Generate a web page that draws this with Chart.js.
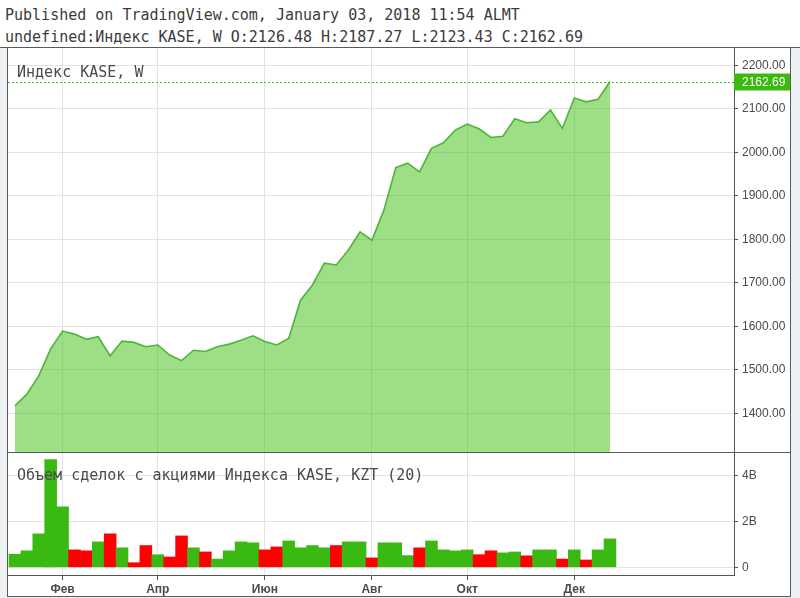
<!DOCTYPE html>
<html><head><meta charset="utf-8">
<script src="https://cdn.jsdelivr.net/npm/chart.js@4.4.0/dist/chart.umd.min.js"></script>
<style>
html,body{margin:0;padding:0;background:#fff;width:800px;height:598px;overflow:hidden;position:relative;font-family:"DejaVu Sans Mono",monospace;}
.hdr{position:absolute;left:5px;font-size:15px;line-height:15px;color:#3b3b3b;white-space:pre;}
#bg{position:absolute;left:0;top:47px;width:800px;height:551px;background:#eef1f4;}
#frame{position:absolute;left:7px;top:47px;width:784px;height:550px;box-sizing:border-box;border:1px solid #5a5a5a;background:#fff;}
#topline{position:absolute;left:0;top:47px;width:800px;height:1px;background:#5a5a5a;}
#sep{position:absolute;left:7px;top:452px;width:784px;height:1px;background:#5a5a5a;}
#pc{position:absolute;left:8px;top:48px;}
#vc{position:absolute;left:8px;top:453px;}
.leg{position:absolute;left:17px;font-size:15px;line-height:15px;color:#4a4a4a;white-space:pre;z-index:5;}
</style>
</head>
<body>
<div class="hdr" style="top:8px">Published on TradingView.com, January 03, 2018 11:54 ALMT</div>
<div class="hdr" style="top:30px">undefined:Индекс KASE, W O:2126.48 H:2187.27 L:2123.43 C:2162.69</div>
<div id="bg"></div>
<div id="frame"></div>
<div id="topline"></div>
<canvas id="pc" width="782" height="404"></canvas>
<div id="sep"></div>
<canvas id="vc" width="782" height="143"></canvas>
<div class="leg" style="top:65px">Индекс KASE, W</div>
<div class="leg" style="top:468px">Объем сделок с акциями Индекса KASE, KZT (20)</div>
<script>
// ---- data ----
const weeks = ["2017-01-09","2017-01-16","2017-01-23","2017-01-30","2017-02-06","2017-02-13","2017-02-20","2017-02-27",
"2017-03-06","2017-03-13","2017-03-20","2017-03-27","2017-04-03","2017-04-10","2017-04-17","2017-04-24",
"2017-05-01","2017-05-08","2017-05-15","2017-05-22","2017-05-29","2017-06-05","2017-06-12","2017-06-19","2017-06-26",
"2017-07-03","2017-07-10","2017-07-17","2017-07-24","2017-07-31","2017-08-07","2017-08-14","2017-08-21","2017-08-28",
"2017-09-04","2017-09-11","2017-09-18","2017-09-25","2017-10-02","2017-10-09","2017-10-16","2017-10-23","2017-10-30",
"2017-11-06","2017-11-13","2017-11-20","2017-11-27","2017-12-04","2017-12-11","2017-12-18","2017-12-25"];
const closePrices = [1417,1444,1486,1548,1589,1582,1570,1576,1532,1566,1563,1553,1557,1534,1521,1545,1542,
1553,1559,1568,1578,1565,1557,1572,1660,1695,1745,1741,1775,1817,1798,1867,1965,1975,1955,2009,2022,2051,
2065,2054,2034,2037,2077,2068,2070,2097,2055,2125,2116,2122,2162.69];
const volumesB = [0.57,0.72,1.46,4.70,2.64,0.76,0.72,1.11,1.46,0.85,0.20,0.95,0.55,0.45,1.37,0.85,0.67,
0.36,0.72,1.11,1.07,0.76,0.89,1.15,0.85,0.95,0.85,0.95,1.11,1.11,0.41,1.07,1.07,0.51,0.85,1.15,0.76,0.72,
0.76,0.55,0.72,0.63,0.67,0.50,0.76,0.76,0.36,0.76,0.32,0.76,1.24];
const volumeDir = ['u','u','u','u','u','d','d','u','d','u','d','d','u','d','d','u','d',
'u','u','u','u','d','d','u','u','u','u','d','u','u','d','u','u','u','d','u','u','u',
'u','d','d','u','u','d','u','u','d','u','d','u','u'];
const monthTickIdx = [4,12,21,30,38,47];
const monthLabels = ['Фев','Апр','Июн','Авг','Окт','Дек'];
const priceTicks = [1400,1500,1600,1700,1800,1900,2000,2100,2200];
const volumeTicks = [0,2,4];

// ---- layout / style ----
const X_MIN = -0.584, X_MAX = 60.42;
const AXIS_W = 56;
const GRID = '#e3e3e3', AXIS = '#555', TXT = '#4a4a4a';
const tickFont = {family:'Arial, "Liberation Sans", sans-serif', size:12};

const closeLinePlugin = {
  id:'closeLine',
  afterDatasetsDraw(chart){
    const {ctx, chartArea:a, scales:{y}} = chart;
    const last = closePrices[closePrices.length-1];
    const py = Math.round(y.getPixelForValue(last)) + 0.5;
    ctx.save();
    ctx.strokeStyle = '#45c02c'; ctx.lineWidth = 1; ctx.setLineDash([2,2]);
    ctx.beginPath(); ctx.moveTo(a.left, py); ctx.lineTo(a.right, py); ctx.stroke();
    ctx.setLineDash([]);
    ctx.fillStyle = '#3cb90f';
    ctx.fillRect(a.right, py - 9, chart.width - a.right, 17);
    ctx.fillStyle = '#fff'; ctx.font = '12px Arial, "Liberation Sans", sans-serif'; ctx.textBaseline = 'middle';
    ctx.fillText(last.toFixed(2), a.right + 8, py);
    ctx.restore();
  }
};

const common = {responsive:false, animation:false, maintainAspectRatio:false,
  layout:{padding:0}, plugins:{legend:{display:false}, tooltip:{enabled:false}}};

new Chart(document.getElementById('pc'), {
  type:'line',
  data:{labels:weeks, datasets:[{
    data: closePrices.map((v,i)=>({x:i, y:v})),
    borderColor:'#4db636', borderWidth:1.6, backgroundColor:'rgba(61,189,15,0.5)',
    fill:'start', pointRadius:0, tension:0
  }]},
  options:Object.assign({}, common, {
    scales:{
      x:{type:'linear', min:X_MIN, max:X_MAX, offset:false,
        grid:{color:GRID, drawTicks:false, offset:false}, border:{display:false},
        ticks:{display:false},
        afterBuildTicks:s=>{s.ticks = monthTickIdx.map(v=>({value:v}));},
        afterFit:s=>{s.height=0; s.paddingLeft=0; s.paddingRight=0;}},
      y:{position:'right', min:1311, max:2239.8,
        grid:{color:GRID, tickLength:4, tickColor:AXIS}, border:{display:true, color:AXIS},
        ticks:{font:tickFont, color:TXT, padding:4, callback:v=>Number(v).toFixed(2)},
        afterBuildTicks:s=>{s.ticks = priceTicks.map(v=>({value:v}));},
        afterFit:s=>{s.width=AXIS_W; s.paddingTop=0; s.paddingBottom=0;}}
    }
  }),
  plugins:[closeLinePlugin]
});

new Chart(document.getElementById('vc'), {
  type:'bar',
  data:{labels:weeks, datasets:[{
    data: volumesB.map((v,i)=>({x:i, y:v})),
    backgroundColor: volumeDir.map(d=> d==='u' ? '#3bb913' : '#ff0000'),
    borderWidth:0, barPercentage:1, categoryPercentage:1
  }]},
  options:Object.assign({}, common, {
    scales:{
      x:{type:'linear', min:X_MIN, max:X_MAX, offset:false,
        grid:{color:GRID, tickLength:5, tickColor:AXIS, offset:false}, border:{display:true, color:AXIS},
        ticks:{font:Object.assign({}, tickFont, {weight:'bold'}), color:TXT, padding:2, maxRotation:0, autoSkip:false,
          callback:v=>{const k = monthTickIdx.indexOf(v); return k>=0 ? monthLabels[k] : '';}},
        afterBuildTicks:s=>{s.ticks = monthTickIdx.map(v=>({value:v}));},
        afterFit:s=>{s.height=21; s.paddingLeft=0; s.paddingRight=0;}},
      y:{position:'right', min:-0.336, max:4.99,
        grid:{color:GRID, tickLength:4, tickColor:AXIS}, border:{display:true, color:AXIS},
        ticks:{font:tickFont, color:TXT, padding:4, callback:v=> v===0 ? '0' : v+'B'},
        afterBuildTicks:s=>{s.ticks = volumeTicks.map(v=>({value:v}));},
        afterFit:s=>{s.width=AXIS_W; s.paddingTop=0; s.paddingBottom=0;}}
    }
  })
});
</script>
</body></html>
